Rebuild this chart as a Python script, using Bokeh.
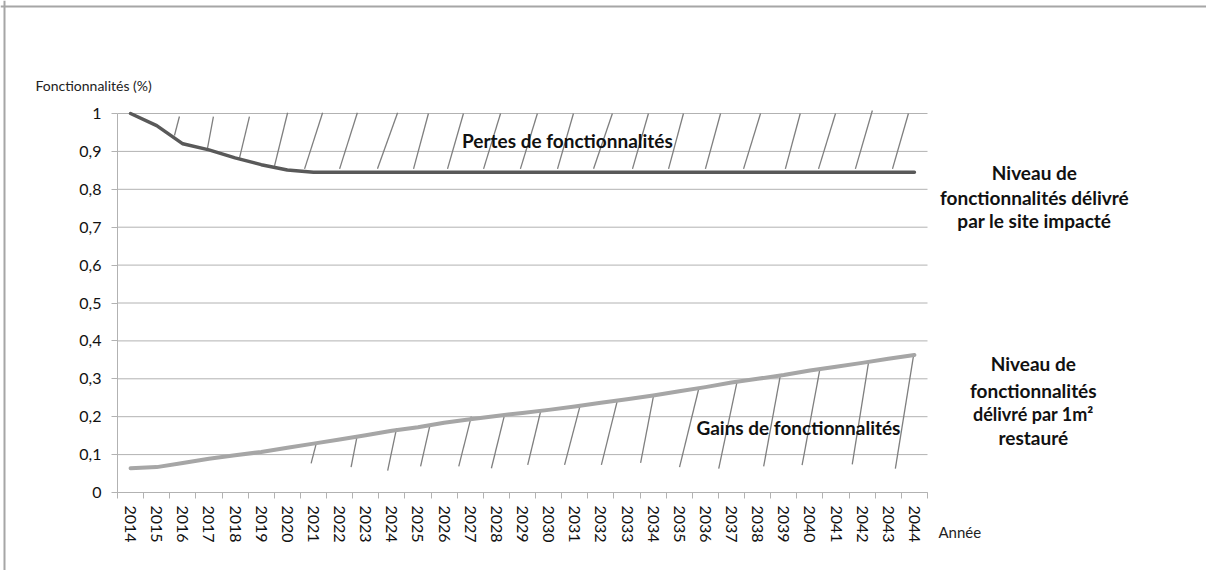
from bokeh.plotting import figure
from bokeh.models import FixedTicker, CustomJSTickFormatter, Label, Range1d, LinearAxis, Span
from bokeh.embed import file_html
from bokeh.resources import INLINE

# ---------------- data ----------------
years = [str(y) for y in range(2014, 2045)]

impacted = [1.0, 0.968, 0.92, 0.904, 0.883, 0.865, 0.851, 0.845, 0.845, 0.845,
            0.845, 0.845, 0.845, 0.845, 0.845, 0.845, 0.845, 0.845, 0.845, 0.845,
            0.845, 0.845, 0.845, 0.845, 0.845, 0.845, 0.845, 0.845, 0.845, 0.845, 0.845]

restored = [0.064, 0.067, 0.078, 0.089, 0.098, 0.107, 0.118, 0.129, 0.140, 0.151,
            0.163, 0.172, 0.184, 0.193, 0.202, 0.210, 0.218, 0.227, 0.237, 0.246,
            0.256, 0.267, 0.278, 0.290, 0.300, 0.310, 0.322, 0.332, 0.342, 0.353, 0.363]

y_ticks = [0, 0.1, 0.2, 0.3, 0.4, 0.5, 0.6, 0.7, 0.8, 0.9, 1.0]

# hatching (positions in "years since start of 2014", value units)
loss_hatch_x0 = [2.18, 3.44, 4.67, 6.01, 7.16, 8.50, 9.95, 11.33, 12.63, 14.01, 15.42,
                 16.84, 18.22, 19.71, 21.09, 22.50, 23.96, 25.56, 26.83, 28.24, 29.66]
loss_hatch_x1 = [2.37, 3.67, 5.05, 6.51, 7.85, 9.18, 10.72, 11.90, 13.24, 14.66, 16.07,
                 17.45, 18.94, 20.32, 21.66, 23.08, 24.61, 26.13, 27.48, 28.89, 30.27]
loss_hatch_y0 = [0.942, 0.907, 0.883, 0.862, 0.854, 0.854, 0.854, 0.854, 0.854, 0.854, 0.854,
                 0.854, 0.854, 0.854, 0.854, 0.854, 0.854, 0.854, 0.854, 0.854, 0.854]
loss_hatch_y1 = [0.992, 0.992, 0.992, 1.002, 1.002, 1.002, 1.002, 1.0, 1.0, 1.0, 1.0,
                 1.0, 1.0, 1.0, 1.0, 1.0, 1.0, 1.0, 1.0, 1.008, 1.0]

gain_hatch_x0 = [7.41, 8.94, 10.34, 11.60, 13.06, 14.31, 15.70, 17.11, 18.52, 20.02,
                 21.51, 23.01, 24.73, 26.20, 28.12, 29.77]
gain_hatch_x1 = [7.62, 9.17, 10.68, 11.95, 13.54, 14.82, 16.19, 17.72, 19.12, 20.52,
                 22.25, 23.72, 25.37, 26.88, 28.75, 30.47]
gain_hatch_y0 = [0.077, 0.067, 0.058, 0.069, 0.069, 0.064, 0.073, 0.073, 0.073, 0.078,
                 0.067, 0.063, 0.069, 0.072, 0.074, 0.063]
gain_hatch_y1 = [0.133, 0.149, 0.169, 0.175, 0.200, 0.207, 0.213, 0.233, 0.240, 0.257,
                 0.275, 0.295, 0.310, 0.325, 0.346, 0.363]

# ---------------- figure ----------------
FONT = "Lato"
GRID = "#b2b2b2"
BORDER = "#a6a6a6"

n = len(years)
xs = [i + 0.5 for i in range(n)]

# the frame fills the whole canvas; the plot area [0, n] x [0, 1] sits inside it
PX = 810.0 / n      # pixels per year
PY = 379.0          # pixels per unit of value
X0, X1 = -117.0 / PX, n + (1206.0 - 927.0) / PX
Y0, Y1 = -(570.0 - 492.0) / PY, 1 + 113.0 / PY

p = figure(width=1206, height=570, output_backend="svg", toolbar_location=None,
           x_range=Range1d(X0, X1), y_range=Range1d(Y0, Y1),
           x_axis_location=None, y_axis_location=None,
           min_border=0, min_border_left=0, min_border_right=0,
           min_border_top=0, min_border_bottom=0)
p.outline_line_color = None
p.background_fill_color = "white"
p.border_fill_color = "white"
p.grid.visible = False

# outer frame lines (top and left)
p.add_layout(Span(location=Y1 - 6.0 / PY, dimension="width", line_color=BORDER, line_width=2))
p.add_layout(Span(location=X0 + 4.0 / PX, dimension="height", line_color=BORDER, line_width=2))

# horizontal gridlines over the plot area
p.segment([0] * len(y_ticks), y_ticks, [n] * len(y_ticks), y_ticks,
          line_color=GRID, line_width=1)

# x axis: ticks at year boundaries, labels at centres
xaxis = LinearAxis(fixed_location=0, bounds=(0, n))
xaxis.ticker = FixedTicker(ticks=xs, minor_ticks=list(range(n + 1)))
xaxis.major_label_overrides = {x: y for x, y in zip(xs, years)}
xaxis.major_tick_line_color = None
xaxis.minor_tick_line_color = GRID
xaxis.minor_tick_out = 6
xaxis.minor_tick_in = 0
xaxis.major_tick_out = 6
xaxis.major_label_orientation = "vertical"
xaxis.major_label_standoff = 7
xaxis.axis_line_color = GRID
xaxis.major_label_text_font = FONT
xaxis.major_label_text_font_size = "16px"
xaxis.major_label_text_color = "#111111"
p.add_layout(xaxis, "below")

yaxis = LinearAxis(fixed_location=0, bounds=(0, 1))
yaxis.ticker = FixedTicker(ticks=y_ticks)
yaxis.formatter = CustomJSTickFormatter(
    code="var s = tick.toFixed(1).replace('.', ','); return s.endsWith(',0') ? s.slice(0, -2) : s;")
yaxis.axis_line_color = GRID
yaxis.major_tick_line_color = GRID
yaxis.major_tick_out = 6
yaxis.major_tick_in = 0
yaxis.minor_tick_line_color = None
yaxis.major_label_standoff = 10
yaxis.major_label_text_font = FONT
yaxis.major_label_text_font_size = "16px"
yaxis.major_label_text_color = "#111111"
p.add_layout(yaxis, "left")

# hatching
p.segment(loss_hatch_x0, loss_hatch_y0, loss_hatch_x1, loss_hatch_y1,
          line_color="#7f7f7f", line_width=1.3)
p.segment(gain_hatch_x0, gain_hatch_y0, gain_hatch_x1, gain_hatch_y1,
          line_color="#7f7f7f", line_width=1.3)

# series
p.line(xs, restored, line_color="#a6a6a6", line_width=4, line_cap="round", line_join="round")
p.line(xs, impacted, line_color="#595959", line_width=3.5, line_cap="round", line_join="round")

def lab(x, y, text, size="19px", bold=True, align="center", color="#111111"):
    p.add_layout(Label(x=x, y=y, text=text, text_font=FONT, text_font_size=size,
                       text_font_style="bold" if bold else "normal",
                       text_align=align, text_baseline="middle", text_color=color))

lab(17.22, 0.929, "Pertes de fonctionnalités")
lab(26.06, 0.1715, "Gains de fonctionnalités")

lab(35.09, 0.844, "Niveau de")
lab(35.09, 0.778, "fonctionnalités délivré")
lab(35.09, 0.718, "par le site impacté")

lab(35.05, 0.340, "Niveau de")
lab(35.05, 0.269, "fonctionnalités")
lab(35.05, 0.208, "délivré par 1m²", size="18px")
lab(35.05, 0.145, "restauré")

lab(-3.14, 1.074, "Fonctionnalités (%)", size="14px", bold=False, align="left", color="#222222")
lab(31.42, -0.103, "Année", size="15px", bold=False, align="left", color="#222222")

open("out.html", "w").write(file_html(p, INLINE))
